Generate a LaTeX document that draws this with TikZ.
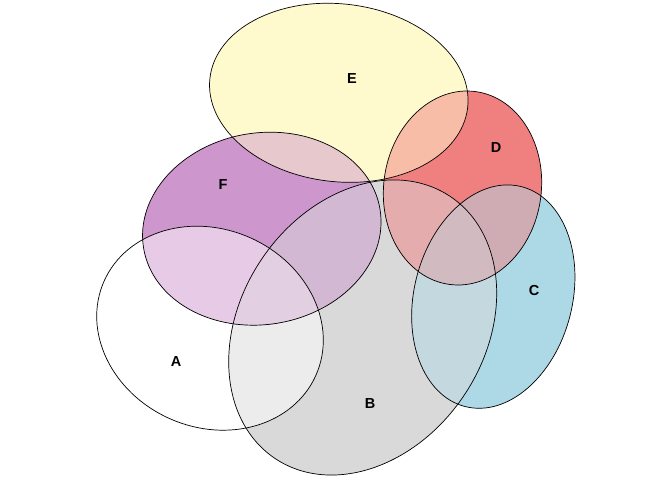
\documentclass[tikz,border=0pt]{standalone}
\usepackage{fontspec}
\setmainfont{Liberation Sans}
\usepackage{xcolor}

\definecolor{colA}{RGB}{255,255,255}
\definecolor{colB}{RGB}{217,217,217}
\definecolor{colC}{RGB}{173,216,230}
\definecolor{colD}{RGB}{240,128,128}
\definecolor{colE}{RGB}{255,250,205}
\definecolor{colF}{RGB}{205,150,205}

% the six sets, centre + radii + tilt
\newcommand{\setA}{(210,151.8) ellipse [x radius=115.9, y radius=99.0, rotate=-24]}
\newcommand{\setB}{(362.7,152.5) ellipse [x radius=157.6, y radius=122.0, rotate=56.25]}
\newcommand{\setC}{(493.3,183.4) ellipse [x radius=113.5, y radius=79.1, rotate=75.6]}
\newcommand{\setD}{(462.5,292) ellipse [x radius=97.3, y radius=78.8, rotate=82.2]}
\newcommand{\setE}{(338.8,387.2) ellipse [x radius=129.7, y radius=88.9, rotate=-6.5]}
\newcommand{\setF}{(261.8,251.3) ellipse [x radius=119.8, y radius=95.8, rotate=9.25]}

\tikzset{
  setlabel/.style={font=\bfseries\fontsize{14.5}{16}\selectfont, inner sep=0pt},
  outline/.style={draw=black, line width=0.7pt}
}

\begin{document}
\begin{tikzpicture}[x=1pt,y=1pt]
  \useasboundingbox (0,0) rectangle (672,480);
  % single sets
  \foreach \s in {A,B,C,D,E,F}{
    \fill[col\s] \csname set\s\endcsname;
  }
  % two-set overlaps: mean colour
  \foreach \p/\q in {A/B,A/F,B/F,B/E,B/D,B/C,C/D,D/E,E/F}{
    \colorlet{mixcol}{col\p!50!col\q}
    \begin{scope}
      \clip \csname set\p\endcsname;
      \fill[mixcol] \csname set\q\endcsname;
    \end{scope}
  }
  % three-set overlaps
  \foreach \p/\q/\r in {A/B/F,B/C/D,B/E/F,B/D/E}{
    \colorlet{mixpq}{col\p!50!col\q}
    \colorlet{mixcol}{col\r!33.33!mixpq}
    \begin{scope}
      \clip \csname set\p\endcsname;
      \clip \csname set\q\endcsname;
      \fill[mixcol] \csname set\r\endcsname;
    \end{scope}
  }
  % outlines
  \foreach \s in {A,B,C,D,E,F}{
    \path[outline] \csname set\s\endcsname;
  }
  \node[setlabel] (labA) at (176,118) {A};
  \node[setlabel] (labB) at (370,76) {B};
  \node[setlabel] (labC) at (534,189) {C};
  \node[setlabel] (labD) at (496,332) {D};
  \node[setlabel] (labE) at (352,401) {E};
  \node[setlabel] (labF) at (223,295) {F};
\end{tikzpicture}
\end{document}
